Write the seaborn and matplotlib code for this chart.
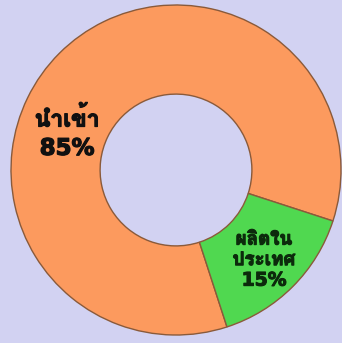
import matplotlib
matplotlib.use("Agg")
import matplotlib.pyplot as plt
from matplotlib import font_manager
from matplotlib.ft2font import FT2Font
import matplotlib.patheffects as pe
import numpy as np
import seaborn as sns

labels = ["นำเข้า", "ผลิตในประเทศ"]
label_lines = ["นำเข้า", "ผลิตใน\nประเทศ"]
values = [85, 15]
colors = ["#FC9A5E", "#50D850"]
text_colors = ["#111111", "#0c2a0c"]
bg = "#D2D2F2"

sns.set_theme(style="white")

# find a font with Thai glyphs
thai_font = None
for f in font_manager.fontManager.ttflist:
    try:
        cm = FT2Font(f.fname).get_charmap()
        if 0x0E19 in cm and 0x0E33 in cm:
            thai_font = f.name
            if "bold" in f.fname.lower() or f.weight in (700, "bold"):
                break
    except Exception:
        pass
families = ["DejaVu Sans"] + ([thai_font] if thai_font else [])
plt.rcParams["font.family"] = families

fig = plt.figure(figsize=(3.42, 3.43), dpi=100, facecolor=bg)
ax = fig.add_axes([11 / 342, 8 / 343, 330 / 342, 330 / 343])
ax.set_facecolor(bg)

wedges, _ = ax.pie(values, colors=colors, startangle=-18, counterclock=True,
                   radius=1.0, wedgeprops=dict(width=0.54, edgecolor="#8a5a3a", linewidth=1.0))
ax.set_xlim(-1, 1)
ax.set_ylim(-1, 1)
ax.set_aspect("equal")
ax.axis("off")

# orange label
ax.text(-0.66, 0.22, f"{label_lines[0]}\n{values[0]}%", ha="center", va="center",
        fontsize=16.5, fontweight="bold", color=text_colors[0], linespacing=1.3,
        path_effects=[pe.withStroke(linewidth=0.9, foreground=text_colors[0])])
# green label at wedge middle
w = wedges[1]
mid = np.deg2rad((w.theta1 + w.theta2) / 2)
r = 0.74
ax.text(r * np.cos(mid) + 0.01, r * np.sin(mid) - 0.02, f"{label_lines[1]}\n{values[1]}%",
        ha="center", va="center", fontsize=13.5, fontweight="bold",
        color=text_colors[1], linespacing=1.1,
        path_effects=[pe.withStroke(linewidth=0.8, foreground=text_colors[1])])

fig.savefig("out.png", dpi=100, facecolor=bg)
